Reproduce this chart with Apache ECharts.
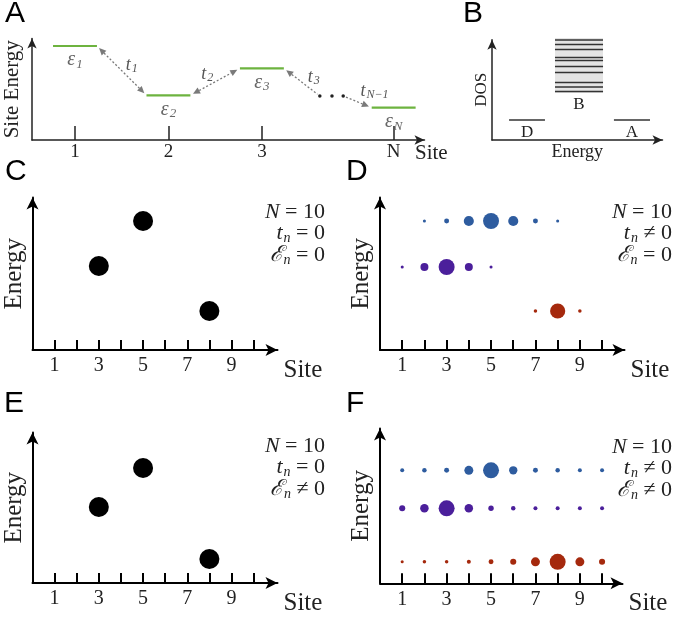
<!DOCTYPE html>
<html><head><meta charset="utf-8">
<script src="https://cdn.jsdelivr.net/npm/echarts@6/dist/echarts.min.js"></script>
<style>html,body{margin:0;padding:0;background:#fff}#c{width:677px;height:617px}</style>
</head><body><div id="c"></div>
<script>
// ---------------- Panel A : site energies ----------------
const aLevelSites = [1, 2, 3, 4.41];
const aLevelEnergies = [8.79, 4.18, 6.70, 3.02];
const aLevelSubs = ['1', '2', '3', 'N'];
const aTickSites = [1, 2, 3, 4.41];
const aTickLabels = ['1', '2', '3', 'N'];
const aHopSubs = ['1', '2', '3', 'N\u22121'];
const aEllipsisSites = [3.62, 3.75, 3.87];
const aEllipsisEnergy = 4.11;

// ---------------- Panel B : density of states ----------------
const bDonorEnergy = [0.97, 3.01];
const bAcceptorEnergy = [6.93, 8.98];
const bBridgeEnergy = [3.58, 6.31];
const bEndDOS = 1.9;
const bBridgeDOS = [9.52, 9.10, 8.62, 7.86, 7.57, 7.0, 6.43, 5.48, 5.05, 4.62];
const bBandDOS = [4.48, 9.71];
const bNames = ['D', 'B', 'A'];

// ---------------- Panels C-F ----------------
const sites = [1, 2, 3, 4, 5, 6, 7, 8, 9, 10];
const siteLabels = [1, 3, 5, 7, 9];

const cSites = [3, 5, 8];
const cEnergies = [8.4, 12.9, 3.9];

const dRowEnergies = [12.9, 8.3, 3.9];
const dBlueSites = [2, 3, 4, 5, 6, 7, 8];
const dBlueAmp = [0.19, 0.31, 0.63, 1.0, 0.63, 0.31, 0.19];
const dPurpleSites = [1, 2, 3, 4, 5];
const dPurpleAmp = [0.19, 0.5, 1.0, 0.5, 0.19];
const dRedSites = [7, 8, 9];
const dRedAmp = [0.22, 0.95, 0.22];

const eSites = [3, 5, 8];
const eEnergies = [7.6, 11.5, 2.4];

const fRowEnergies = [11.3, 7.5, 2.15];
const fBlueAmp = [0.25, 0.28, 0.31, 0.56, 1.0, 0.52, 0.31, 0.28, 0.25, 0.25];
const fPurpleAmp = [0.38, 0.53, 1.0, 0.53, 0.34, 0.28, 0.25, 0.25, 0.25, 0.25];
const fRedAmp = [0.19, 0.22, 0.22, 0.25, 0.31, 0.38, 0.56, 1.0, 0.56, 0.38];

const mathC = ['{it|N}{rm| = 10}', '{it|t}{sub|n}{rm| = 0}', '{it|\u2130}{sub|n}{rm| = 0}'];
const mathD = ['{it|N}{rm| = 10}', '{it|t}{sub|n}{rm| \u2260 0}', '{it|\u2130}{sub|n}{rm| = 0}'];
const mathE = ['{it|N}{rm| = 10}', '{it|t}{sub|n}{rm| = 0}', '{it|\u2130}{sub|n}{rm| \u2260 0}'];
const mathF = ['{it|N}{rm| = 10}', '{it|t}{sub|n}{rm| \u2260 0}', '{it|\u2130}{sub|n}{rm| \u2260 0}'];

// ---------------- styling ----------------
const SERIF = 'Liberation Serif';
const SANS = 'Liberation Sans';
const BLUE = '#2e5c9f', PURPLE = '#4b1f9b', RED = '#a5290d';
const GREEN = '#6db33f', ARROW_GRAY = '#7a7a7a', TXT = '#222';
const AMP_PX = 16;
const aHalf = 0.235;

function mathRich(size, sub, color) {
  return {
    it: {fontFamily: SERIF, fontStyle: 'italic', fontSize: size, fill: color, color: color},
    rm: {fontFamily: SERIF, fontSize: size, fill: color, color: color},
    sub: {fontFamily: SERIF, fontStyle: 'italic', fontSize: sub, fill: color, color: color,
          verticalAlign: 'bottom', padding: [Math.round(size * 0.45), 0, 0, 1]}
  };
}

function axisLineStyle(w, c, arrow) {
  return {show: true, onZero: false, symbol: ['none', 'arrow'], symbolSize: arrow,
          lineStyle: {color: c, width: w}};
}

function siteXAxis(gi, max) {
  return {
    gridIndex: gi, type: 'value', min: 0, max: max,
    axisLine: axisLineStyle(2, '#000', [9, 12]),
    axisTick: {show: true, inside: true, length: 10, customValues: sites, lineStyle: {color: '#000', width: 2}},
    axisLabel: {show: true, customValues: siteLabels, margin: 6, fontFamily: SERIF, fontSize: 20, color: TXT},
    splitLine: {show: false},
    name: 'Site', nameLocation: 'end', nameGap: 6,
    nameTextStyle: {fontFamily: SERIF, fontSize: 25, color: TXT, align: 'left', verticalAlign: 'top', padding: [8, 0, 0, 0]}
  };
}
function energyYAxis(gi, max) {
  return {
    gridIndex: gi, type: 'value', min: 0, max: max,
    axisLine: axisLineStyle(2, '#000', [9, 12]),
    axisTick: {show: false}, axisLabel: {show: false}, splitLine: {show: false},
    name: 'Energy', nameLocation: 'middle', nameRotate: 90, nameGap: 6,
    nameTextStyle: {fontFamily: SERIF, fontSize: 25, color: TXT}
  };
}

function rowSeries(gi, siteArr, amps, energy, color) {
  return {
    type: 'scatter', xAxisIndex: gi, yAxisIndex: gi, silent: true,
    data: siteArr.map((s, i) => [s, energy, amps[i]]),
    symbolSize: v => v[2] * AMP_PX,
    itemStyle: {color: color, opacity: 1}
  };
}

function mathBlock(x, y0, lines) {
  return lines.map((t, i) => ({
    type: 'text', x: x, y: y0 + i * 21.5,
    style: {text: t, rich: mathRich(22, 14, TXT), align: 'right', verticalAlign: 'middle'}
  }));
}

function panelLetter(ch, x, y) {
  return {type: 'text', x: x, y: y, style: {text: ch, font: '30px ' + SANS, fill: '#000', align: 'left', verticalAlign: 'middle'}};
}

// ---- panel A derived items ----
const aLevelData = aLevelSites.map((s, i) => [s, aLevelEnergies[i], i]);
const aHopData = [
  [aLevelSites[0] + aHalf, aLevelEnergies[0], aLevelSites[1] - aHalf, aLevelEnergies[1], 0, 1, 1],
  [aLevelSites[1] + aHalf, aLevelEnergies[1], aLevelSites[2] - aHalf, aLevelEnergies[2], 1, 1, 1],
  [aLevelSites[2] + aHalf, aLevelEnergies[2], aEllipsisSites[0], aEllipsisEnergy, 2, 1, 0],
  [aEllipsisSites[2], aEllipsisEnergy, aLevelSites[3] - aHalf, aLevelEnergies[3], 3, 0, 1]
];
const hopLabelOffsets = [[10, -5.5], [-8, -7.5], [12, -5], [17, -11]];

function arrowHead(tip, ux, uy, len, half) {
  const bx = tip[0] - ux * len, by = tip[1] - uy * len;
  return {type: 'polygon', shape: {points: [[tip[0], tip[1]], [bx - uy * half, by + ux * half], [bx + uy * half, by - ux * half]]},
          style: {fill: ARROW_GRAY}};
}

// ---- panel B derived items ----
const bLineData = [
  [bDonorEnergy[0], bDonorEnergy[1], bEndDOS],
  [bAcceptorEnergy[0], bAcceptorEnergy[1], bEndDOS]
].concat(bBridgeDOS.map(d => [bBridgeEnergy[0], bBridgeEnergy[1], d]));
const bLabelData = [
  [(bDonorEnergy[0] + bDonorEnergy[1]) / 2, bEndDOS, 0],
  [(bBridgeEnergy[0] + bBridgeEnergy[1]) / 2, bBandDOS[0], 1],
  [(bAcceptorEnergy[0] + bAcceptorEnergy[1]) / 2, bEndDOS, 2]
];

const chart = echarts.init(document.getElementById('c'), null, {renderer: 'canvas'});
const option = {
  animation: false,
  backgroundColor: '#fff',
  grid: [
    {left: 32, top: 38.5, width: 392.5, height: 101.5, outerBoundsMode: 'none'},
    {left: 492, top: 39.7, width: 170.5, height: 100.3, outerBoundsMode: 'none'},
    {left: 32.5, top: 197.5, width: 245, height: 152.5, outerBoundsMode: 'none'},
    {left: 380, top: 197.5, width: 244.5, height: 152.5, outerBoundsMode: 'none'},
    {left: 32.5, top: 432.5, width: 245, height: 150.5, outerBoundsMode: 'none'},
    {left: 380, top: 428.5, width: 242.5, height: 154.8, outerBoundsMode: 'none'}
  ],
  xAxis: [
    {
      gridIndex: 0, type: 'value', min: 0.54, max: 4.74,
      axisLine: axisLineStyle(1.5, '#222', [7, 10]),
      axisTick: {show: true, inside: true, length: 14, customValues: aTickSites, lineStyle: {color: '#222', width: 1.5}},
      axisLabel: {show: true, customValues: aTickSites, margin: 3, fontFamily: SERIF, fontSize: 19, color: TXT,
                  formatter: v => aTickLabels[aTickSites.indexOf(v)] ?? ''},
      splitLine: {show: false},
      name: 'Site', nameLocation: 'end', nameGap: -9.5,
      nameTextStyle: {fontFamily: SERIF, fontSize: 21, color: TXT, align: 'left', verticalAlign: 'top', padding: [3, 0, 0, 0]}
    },
    {
      gridIndex: 1, type: 'value', min: 0, max: 9.69,
      axisLine: axisLineStyle(1.5, '#222', [7, 10]),
      axisTick: {show: false}, axisLabel: {show: false}, splitLine: {show: false},
      name: 'Energy', nameLocation: 'middle', nameGap: 3,
      nameTextStyle: {fontFamily: SERIF, fontSize: 18, color: TXT}
    },
    siteXAxis(2, 11.08), siteXAxis(3, 11.01), siteXAxis(4, 11.08), siteXAxis(5, 10.92)
  ],
  yAxis: [
    {
      gridIndex: 0, type: 'value', min: 0, max: 9.49,
      axisLine: axisLineStyle(1.5, '#222', [7, 10]),
      axisTick: {show: false}, axisLabel: {show: false}, splitLine: {show: false},
      name: 'Site Energy', nameLocation: 'middle', nameRotate: 90, nameGap: 9,
      nameTextStyle: {fontFamily: SERIF, fontSize: 21, color: TXT}
    },
    {
      gridIndex: 1, type: 'value', min: 0, max: 9.55,
      axisLine: axisLineStyle(1.5, '#222', [7, 10]),
      axisTick: {show: false}, axisLabel: {show: false}, splitLine: {show: false},
      name: 'DOS', nameLocation: 'middle', nameRotate: 90, nameGap: 2,
      nameTextStyle: {fontFamily: SERIF, fontSize: 17, color: TXT}
    },
    energyYAxis(2, 15.25), energyYAxis(3, 15.25), energyYAxis(4, 15.05), energyYAxis(5, 15.48)
  ],
  series: [
    // Panel A: site energy levels
    {
      type: 'custom', xAxisIndex: 0, yAxisIndex: 0, silent: true, clip: false,
      data: aLevelData,
      renderItem(params, api) {
        const s = api.value(0), e = api.value(1), i = api.value(2);
        const p0 = api.coord([s - aHalf, e]), p1 = api.coord([s + aHalf, e]);
        const c = api.coord([s, e]);
        return {type: 'group', children: [
          {type: 'line', shape: {x1: p0[0], y1: p0[1], x2: p1[0], y2: p1[1]}, style: {stroke: GREEN, lineWidth: 2.2}},
          {type: 'text', x: c[0], y: c[1] + 14,
           style: {text: '{it|\u03b5}{sub|' + aLevelSubs[i] + '}', rich: mathRich(20, 13, '#666'), align: 'center', verticalAlign: 'middle'}}
        ]};
      }
    },
    // Panel A: hopping arrows
    {
      type: 'custom', xAxisIndex: 0, yAxisIndex: 0, silent: true, clip: false,
      data: aHopData,
      renderItem(params, api) {
        const p1 = api.coord([api.value(0), api.value(1)]);
        const p2 = api.coord([api.value(2), api.value(3)]);
        const i = api.value(4), hs = api.value(5), he = api.value(6);
        const dx = p2[0] - p1[0], dy = p2[1] - p1[1], L = Math.hypot(dx, dy);
        const ux = dx / L, uy = dy / L, g = 3, len = 7, half = 3.3;
        const a = [p1[0] + ux * g, p1[1] + uy * g], b = [p2[0] - ux * g, p2[1] - uy * g];
        const la = hs ? [a[0] + ux * len, a[1] + uy * len] : a;
        const lb = he ? [b[0] - ux * len, b[1] - uy * len] : b;
        const kids = [{type: 'line', shape: {x1: la[0], y1: la[1], x2: lb[0], y2: lb[1]},
                       style: {stroke: ARROW_GRAY, lineWidth: 1.3, lineDash: [2, 2]}}];
        if (hs) kids.push(arrowHead(a, -ux, -uy, len, half));
        if (he) kids.push(arrowHead(b, ux, uy, len, half));
        const m = [(p1[0] + p2[0]) / 2 + hopLabelOffsets[i][0], (p1[1] + p2[1]) / 2 + hopLabelOffsets[i][1]];
        kids.push({type: 'text', x: m[0], y: m[1],
                   style: {text: '{it|t}{sub|' + aHopSubs[i] + '}', rich: mathRich(18, 12, '#555'), align: 'center', verticalAlign: 'middle'}});
        return {type: 'group', children: kids};
      }
    },
    // Panel A: ellipsis
    {
      type: 'scatter', xAxisIndex: 0, yAxisIndex: 0, silent: true,
      data: aEllipsisSites.map(s => [s, aEllipsisEnergy]),
      symbolSize: 3.5, itemStyle: {color: '#222', opacity: 1}
    },
    // Panel B: band background
    {
      type: 'custom', xAxisIndex: 1, yAxisIndex: 1, silent: true, clip: false,
      data: [[bBridgeEnergy[0], bBridgeEnergy[1], bBandDOS[0], bBandDOS[1]]],
      renderItem(params, api) {
        const p0 = api.coord([api.value(0), api.value(3)]);
        const p1 = api.coord([api.value(1), api.value(2)]);
        return {type: 'rect', shape: {x: p0[0], y: p0[1], width: p1[0] - p0[0], height: p1[1] - p0[1]}, style: {fill: '#e4e4e4'}};
      }
    },
    // Panel B: states
    {
      type: 'custom', xAxisIndex: 1, yAxisIndex: 1, silent: true, clip: false,
      data: bLineData,
      renderItem(params, api) {
        const p0 = api.coord([api.value(0), api.value(2)]);
        const p1 = api.coord([api.value(1), api.value(2)]);
        return {type: 'line', shape: {x1: p0[0], y1: p0[1], x2: p1[0], y2: p1[1]}, style: {stroke: '#333', lineWidth: 1.6}};
      }
    },
    // Panel B: labels
    {
      type: 'custom', xAxisIndex: 1, yAxisIndex: 1, silent: true, clip: false,
      data: bLabelData,
      renderItem(params, api) {
        const p = api.coord([api.value(0), api.value(1)]);
        return {type: 'text', x: p[0], y: p[1] + 12,
                style: {text: bNames[api.value(2)], font: '17px ' + SERIF, fill: TXT, align: 'center', verticalAlign: 'middle'}};
      }
    },
    // Panel C
    {
      type: 'scatter', xAxisIndex: 2, yAxisIndex: 2, silent: true,
      data: cSites.map((s, i) => [s, cEnergies[i]]), symbolSize: 20, itemStyle: {color: '#000', opacity: 1}
    },
    // Panel D
    rowSeries(3, dBlueSites, dBlueAmp, dRowEnergies[0], BLUE),
    rowSeries(3, dPurpleSites, dPurpleAmp, dRowEnergies[1], PURPLE),
    rowSeries(3, dRedSites, dRedAmp, dRowEnergies[2], RED),
    // Panel E
    {
      type: 'scatter', xAxisIndex: 4, yAxisIndex: 4, silent: true,
      data: eSites.map((s, i) => [s, eEnergies[i]]), symbolSize: 20, itemStyle: {color: '#000', opacity: 1}
    },
    // Panel F
    rowSeries(5, sites, fBlueAmp, fRowEnergies[0], BLUE),
    rowSeries(5, sites, fPurpleAmp, fRowEnergies[1], PURPLE),
    rowSeries(5, sites, fRedAmp, fRowEnergies[2], RED)
  ],
  graphic: [
    panelLetter('A', 5, 14), panelLetter('B', 463, 14),
    panelLetter('C', 5, 172), panelLetter('D', 346, 172),
    panelLetter('E', 4, 404), panelLetter('F', 346, 404)
  ].concat(mathBlock(325, 212, mathC), mathBlock(672, 212, mathD),
           mathBlock(325, 446, mathE), mathBlock(672, 447, mathF))
};
chart.setOption(option);
</script>
</body></html>
